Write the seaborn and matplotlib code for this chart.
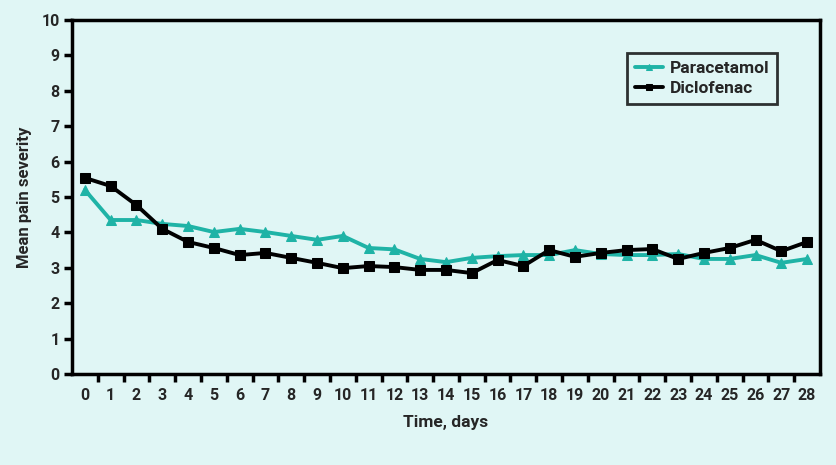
import numpy as np
import pandas as pd
import matplotlib
matplotlib.use('Agg')
import matplotlib.pyplot as plt
import seaborn as sns

days = list(range(29))
paracetamol = [5.20, 4.35, 4.35, 4.24, 4.18, 4.01, 4.10, 4.01, 3.90, 3.79,
               3.90, 3.56, 3.52, 3.25, 3.16, 3.28, 3.33, 3.36, 3.36, 3.50,
               3.39, 3.36, 3.36, 3.39, 3.25, 3.25, 3.36, 3.14, 3.25]
diclofenac = [5.54, 5.31, 4.77, 4.10, 3.73, 3.56, 3.36, 3.42, 3.28, 3.14,
              2.99, 3.05, 3.02, 2.94, 2.94, 2.85, 3.22, 3.05, 3.50, 3.31,
              3.42, 3.50, 3.53, 3.25, 3.42, 3.56, 3.79, 3.47, 3.73]

bg = '#e0f6f5'
teal = '#1fb3a6'

sns.set_theme(style='ticks')
plt.rcParams['font.family'] = ['Roboto', 'DejaVu Sans']
plt.rcParams['font.weight'] = 'bold'

fig = plt.figure(figsize=(8.37, 4.65), dpi=100, facecolor=bg)
ax = fig.add_axes([72 / 837, 1 - 374 / 465, (820 - 72) / 837, (374 - 20) / 465])
ax.set_facecolor(bg)

sns.lineplot(x=days, y=paracetamol, ax=ax, color=teal, marker='^', markersize=7,
             markeredgecolor=teal, linewidth=2.8, label='Paracetamol')
sns.lineplot(x=days, y=diclofenac, ax=ax, color='black', marker='s', markersize=7,
             markeredgecolor='black', linewidth=2.8, label='Diclofenac')

ax.set_xlim(-0.5, 28.5)
ax.set_ylim(0, 10)
ax.set_xticks(days)
ax.set_xticklabels([str(d) for d in days], fontsize=11.5, fontweight='bold')
ax.set_xticks(np.arange(0.5, 28, 1), minor=True)
ax.tick_params(axis='x', which='major', length=0, pad=10)
ax.tick_params(axis='x', which='minor', length=6, width=2.5, color='black', direction='out')
ax.set_yticks(range(11))
ax.set_yticklabels([str(v) for v in range(11)], fontsize=11.5, fontweight='bold')
ax.tick_params(axis='y', length=6, width=2.5, color='black', direction='out', pad=3)

for s in ax.spines.values():
    s.set_color('black')
    s.set_linewidth(2.5)

ax.set_xlabel('Time, days', fontsize=12.5, fontweight='bold', labelpad=9)
ax.set_ylabel('Mean pain severity', fontsize=12, fontweight='bold', labelpad=7)

leg = ax.legend(loc='upper right', bbox_to_anchor=(0.943, 0.907), frameon=True,
                fancybox=False, facecolor=bg, edgecolor='black', fontsize=12.5,
                handlelength=1.6, handletextpad=0.4, borderpad=0.45, labelspacing=0.3,
                markerscale=0.6, borderaxespad=0)
leg.get_frame().set_linewidth(2)
for t in leg.get_texts():
    t.set_fontweight('bold')

fig.savefig('out.png', dpi=100, facecolor=bg)
